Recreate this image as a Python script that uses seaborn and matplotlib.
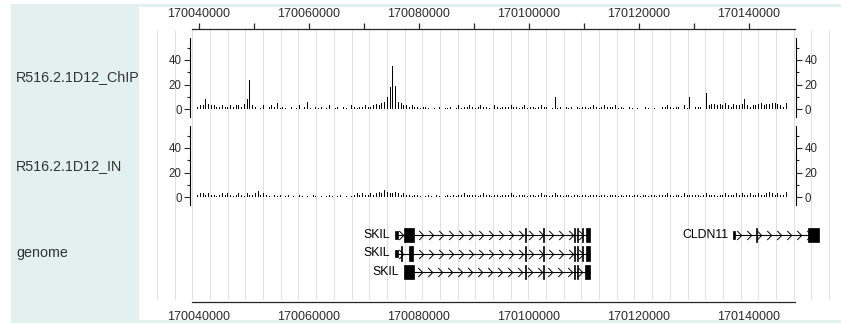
import numpy as np
import matplotlib
matplotlib.use("Agg")
import matplotlib.pyplot as plt
from matplotlib.patches import Rectangle
from matplotlib.path import Path
import seaborn as sns

# ---------------- data ----------------
bin_start = 170039500
bin_width = 500

chip_values = [
    2, 3, 3, 8, 4, 3, 3, 2, 2, 3, 2, 2, 3, 2, 3, 3, 2, 4, 8, 24,
    3, 2, 0, 1, 3, 0, 2, 3, 2, 5, 1, 2, 1, 0, 2, 0, 1, 3, 0, 2,
    6, 1, 0, 2, 1, 2, 0, 1, 3, 0, 1, 2, 0, 2, 1, 0, 3, 2, 1, 2,
    2, 3, 2, 2, 3, 4, 3, 5, 6, 10, 18, 35, 19, 6, 5, 3, 3, 2, 3, 2,
    2, 1, 2, 2, 1, 0, 1, 0, 2, 0, 1, 1, 2, 0, 1, 3, 1, 2, 2, 3,
    2, 1, 2, 3, 2, 2, 1, 0, 3, 2, 1, 2, 2, 2, 3, 2, 2, 1, 2, 3,
    1, 2, 2, 1, 2, 3, 2, 2, 0, 1, 10, 1, 2, 0, 2, 1, 2, 0, 2, 1,
    2, 2, 1, 2, 3, 2, 1, 2, 3, 2, 2, 2, 3, 1, 2, 1, 0, 2, 1, 0,
    1, 0, 0, 2, 1, 0, 1, 0, 0, 2, 2, 3, 2, 1, 2, 2, 0, 3, 1, 10,
    0, 2, 2, 2, 0, 13, 3, 4, 4, 3, 4, 3, 5, 3, 2, 4, 3, 3, 4, 8,
    3, 2, 3, 3, 4, 5, 3, 4, 4, 5, 5, 4, 3, 2, 5,
]

input_values = [
    2, 3, 3, 2, 3, 2, 2, 1, 2, 3, 2, 3, 2, 1, 2, 3, 2, 1, 3, 2,
    2, 3, 5, 2, 3, 2, 1, 0, 2, 1, 2, 0, 1, 2, 0, 1, 0, 2, 1, 0,
    1, 0, 2, 1, 0, 1, 0, 1, 2, 1, 0, 1, 2, 0, 1, 0, 1, 2, 3, 2,
    3, 2, 2, 3, 2, 3, 4, 3, 6, 4, 3, 3, 4, 3, 2, 3, 2, 2, 1, 2,
    2, 1, 0, 1, 2, 1, 0, 2, 1, 0, 1, 2, 1, 2, 1, 2, 2, 3, 2, 2,
    2, 2, 1, 2, 3, 2, 2, 1, 2, 2, 1, 2, 2, 2, 3, 2, 1, 2, 2, 2,
    1, 2, 2, 1, 2, 3, 2, 2, 1, 2, 3, 2, 2, 1, 2, 2, 1, 2, 2, 1,
    2, 2, 1, 2, 2, 2, 1, 2, 2, 1, 2, 2, 2, 1, 2, 1, 2, 2, 1, 2,
    2, 1, 2, 2, 1, 2, 2, 1, 2, 2, 2, 3, 2, 1, 2, 2, 1, 3, 2, 2,
    2, 2, 2, 1, 2, 3, 2, 2, 2, 1, 2, 2, 3, 2, 2, 2, 3, 2, 3, 2,
    2, 3, 2, 2, 3, 2, 2, 3, 4, 3, 2, 3, 2, 2, 4,
]

track_titles = ["R516.2.1D12_ChIP", "R516.2.1D12_IN", "genome"]
y_major = [0, 20, 40]
y_minor = [10, 30, 50]
axis_ticks = [170040000, 170050000, 170060000, 170070000, 170080000, 170090000,
              170100000, 170110000, 170120000, 170130000, 170140000]
axis_labels = ["170040000", "", "170060000", "", "170080000", "",
               "170100000", "", "170120000", "", "170140000"]

tx_names = ["SKIL", "SKIL", "SKIL", "CLDN11"]
tx_rows = [0, 1, 2, 0]
tx_start = [170075600, 170075600, 170077300, 170137100]
tx_end = [170111100, 170111100, 170111100, 170152700]
tx_exons = [
    [(170075600, 170076100, "utr"), (170077300, 170079100, "cds"),
     (170099200, 170099400, "cds"), (170102500, 170102700, "cds"),
     (170108100, 170108300, "cds"), (170108800, 170109000, "cds"),
     (170109700, 170109900, "cds"), (170110400, 170111100, "cds")],
    [(170075600, 170076100, "utr"), (170076800, 170077000, "cds"),
     (170078100, 170079000, "cds"),
     (170099200, 170099400, "cds"), (170102500, 170102700, "cds"),
     (170108100, 170108300, "cds"), (170108800, 170109000, "cds"),
     (170109700, 170109900, "cds"), (170110400, 170111100, "cds")],
    [(170077300, 170079100, "cds"),
     (170099200, 170099400, "cds"), (170102500, 170102700, "cds"),
     (170108100, 170108300, "cds"), (170108800, 170109000, "cds"),
     (170110200, 170111100, "cds")],
    [(170137100, 170137400, "utr"), (170141200, 170141400, "cds"),
     (170150700, 170152700, "cds")],
]

# ---------------- layout helpers ----------------
W, H = 841, 323
PX0, BP0, SCALE = 199.0, 170040000.0, 0.0055   # px = PX0 + (bp - BP0) * SCALE


def bp(px):
    return BP0 + (px - PX0) / SCALE


XLIM = (bp(139), bp(841))


def add_ax(fig, x0, y0, x1, y1, **kw):
    return fig.add_axes([x0 / W, 1 - y1 / H, (x1 - x0) / W, (y1 - y0) / H], **kw)


sns.set_style("white")
plt.rcParams["font.family"] = ["Liberation Sans", "DejaVu Sans"]
TXT = "#2b2b2b"

fig = plt.figure(figsize=(W / 100, H / 100), dpi=100)

# background panels
bg = add_ax(fig, 0, 0, W, H, zorder=0)
bg.set_xlim(0, W)
bg.set_ylim(H, 0)
bg.axis("off")
bg.add_patch(Rectangle((11, 4), W - 11, H - 4, facecolor="#e2f0f0", edgecolor="none"))
bg.add_patch(Rectangle((139, 7), W - 139, 313, facecolor="white", edgecolor="none"))
for title, yc in zip(track_titles, [77, 166, 253]):
    bg.text(16, yc, title, ha="left", va="center", fontsize=10.3, color="#333333")

# vertical grid
gax = add_ax(fig, 139, 30, W, 300, zorder=1)
gax.set_xlim(*XLIM)
gax.set_ylim(0, 1)
gax.axis("off")
for gx in np.linspace(157, 829, 39):
    gax.axvline(bp(gx), color="#dadada", lw=0.6, zorder=0)

centers = [bin_start + bin_width * (i + 0.5) for i in range(len(chip_values))]
edges = [bin_start + bin_width * i for i in range(len(chip_values) + 1)]


def data_track(y_top, y_zero, y_bottom, values):
    ax = add_ax(fig, 139, y_top, W, y_bottom, zorder=2)
    ax.patch.set_alpha(0)
    sns.histplot(x=centers, weights=values, bins=edges, ax=ax, color="black",
                 alpha=1, linewidth=0, shrink=0.45, legend=False)
    ax.set_xlim(*XLIM)
    ax.set_ylim(-(y_bottom - y_zero) / 1.225, (y_zero - y_top) / 1.225)
    for s in ["top", "bottom"]:
        ax.spines[s].set_visible(False)
    ax.spines["left"].set_position(("data", bp(190.5)))
    ax.spines["right"].set_position(("data", bp(796)))
    for s in ["left", "right"]:
        ax.spines[s].set_visible(True)
        ax.spines[s].set_bounds(-6.5, 58)
        ax.spines[s].set_color("black")
        ax.spines[s].set_linewidth(0.8)
    ax.set_yticks(y_major)
    ax.set_yticks(y_minor, minor=True)
    ax.tick_params(axis="y", which="both", left=True, right=True, labelleft=True,
                   labelright=True, direction="out", width=0.8, labelsize=8.3,
                   labelcolor=TXT, pad=2)
    ax.tick_params(axis="y", which="major", length=4.3)
    ax.tick_params(axis="y", which="minor", length=2.5)
    ax.tick_params(axis="x", bottom=False, labelbottom=False)
    ax.set_xlabel("")
    ax.set_ylabel("")
    return ax


data_track(35, 109, 119, chip_values)
data_track(123, 197, 207, input_values)

# top genome axis
ta = add_ax(fig, 139, 29, W, 34, zorder=2)
ta.patch.set_alpha(0)
ta.set_xlim(*XLIM)
ta.set_ylim(0, 1)
for s in ["bottom", "left", "right"]:
    ta.spines[s].set_visible(False)
ta.spines["top"].set_bounds(bp(192), bp(795))
ta.spines["top"].set_linewidth(0.9)
ta.set_yticks([])
ta.set_xticks(axis_ticks)
ta.set_xticklabels(axis_labels)
ta.tick_params(axis="x", top=True, bottom=False, labeltop=True, labelbottom=False,
               direction="out", length=4.3, width=0.9, labelsize=9, labelcolor=TXT, pad=2.5)

# gene track with bottom genome axis
gt = add_ax(fig, 139, 212, W, 302, zorder=2)
gt.patch.set_alpha(0)
gt.set_xlim(*XLIM)
ROW0, ROWSTEP = 235, 18.5
gt.set_ylim((302 - ROW0) / ROWSTEP, (212 - ROW0) / ROWSTEP)
for s in ["top", "left", "right"]:
    gt.spines[s].set_visible(False)
gt.spines["bottom"].set_bounds(bp(192), bp(795))
gt.spines["bottom"].set_linewidth(0.9)
gt.set_yticks([])
gt.set_xticks(axis_ticks)
gt.set_xticklabels(axis_labels)
gt.tick_params(axis="x", direction="out", length=4.3, width=0.9, labelsize=9,
               labelcolor=TXT, pad=2.5)

chev = Path([(-0.5, 1), (0.5, 0), (-0.5, -1)], [Path.MOVETO, Path.LINETO, Path.LINETO])
chev_step = 10 / SCALE
for name, row, s, e, exons in zip(tx_names, tx_rows, tx_start, tx_end, tx_exons):
    gt.hlines(row, s, e, color="black", lw=0.8)
    cx = np.arange(s + chev_step * 0.6, e - chev_step * 0.3, chev_step)
    gt.plot(cx, [row] * len(cx), linestyle="none", marker=chev, markersize=6.5,
            markerfacecolor="none", markeredgecolor="black", markeredgewidth=0.7)
    for es, ee, kind in exons:
        h = 0.78 if kind == "cds" else 0.4
        gt.add_patch(Rectangle((es, row - h / 2), ee - es, h, facecolor="black",
                               edgecolor="black", lw=0.5))
    first = min(es for es, ee, k in exons)
    gt.text(first - 5 / SCALE, row, name, ha="right", va="center", fontsize=8.8, color="black")

fig.savefig("out.png", dpi=100)
